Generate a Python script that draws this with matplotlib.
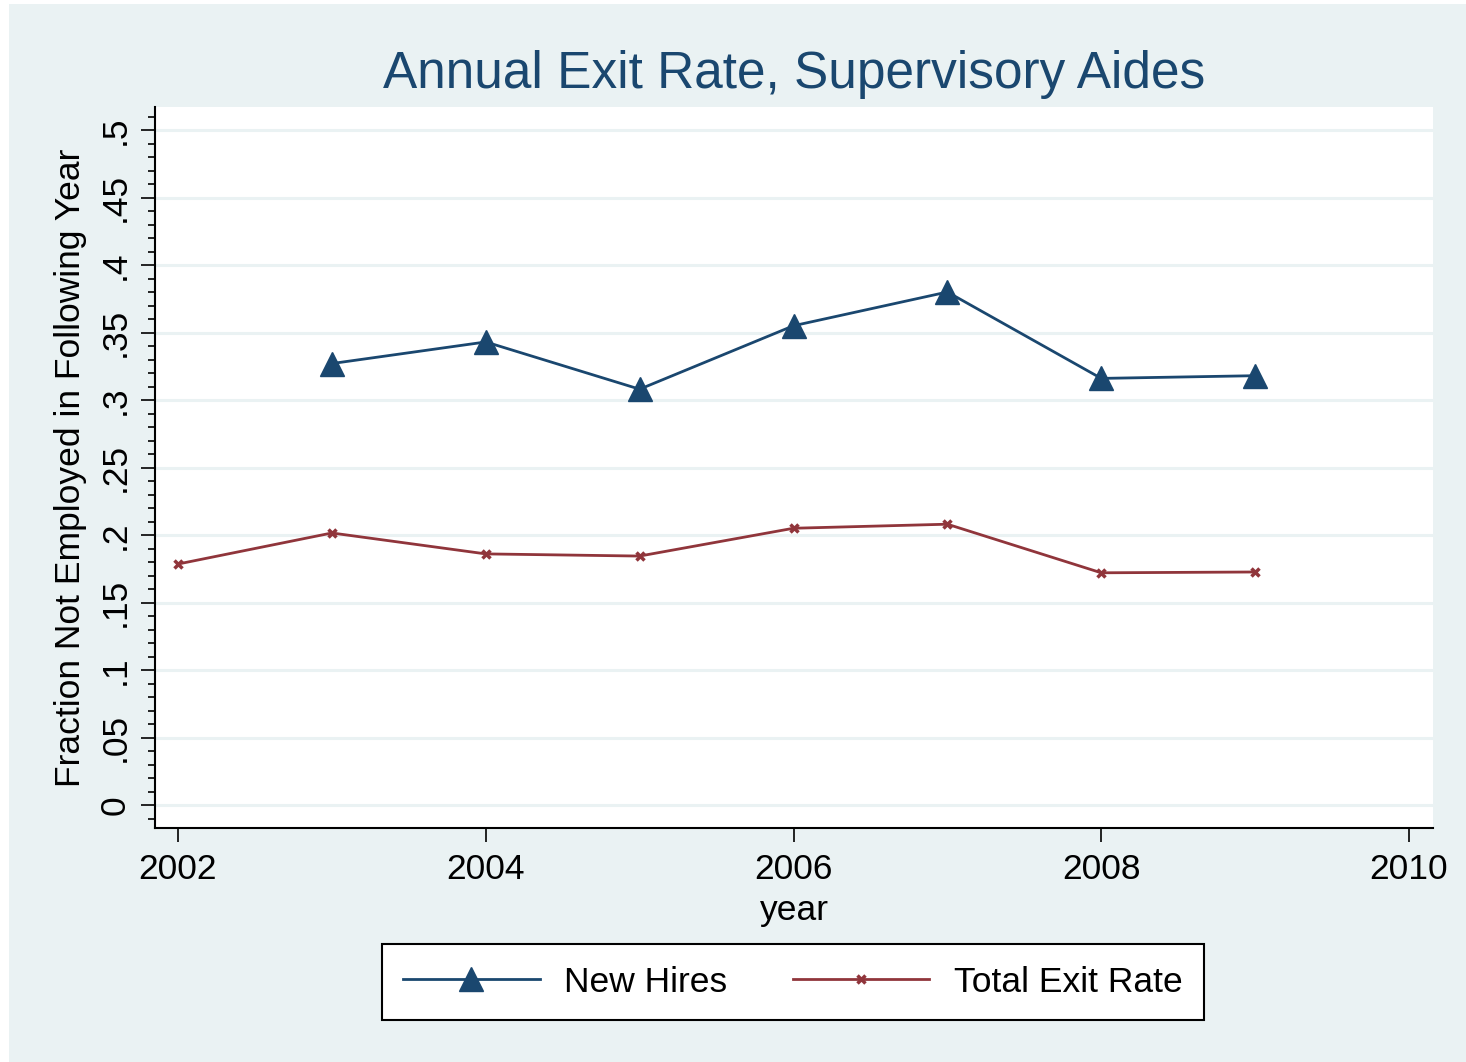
import matplotlib
matplotlib.use('Agg')
import matplotlib.pyplot as plt
from matplotlib.patches import Rectangle
from matplotlib.ticker import MultipleLocator

# data
years_new = [2003, 2004, 2005, 2006, 2007, 2008, 2009]
new_hires = [0.327, 0.343, 0.308, 0.355, 0.380, 0.316, 0.318]
years_total = [2002, 2003, 2004, 2005, 2006, 2007, 2008, 2009]
total_exit = [0.1785, 0.2015, 0.186, 0.1844, 0.205, 0.208, 0.172, 0.1726]
y_ticks = [0, 0.05, 0.1, 0.15, 0.2, 0.25, 0.3, 0.35, 0.4, 0.45, 0.5]
y_labels = ['0', '.05', '.1', '.15', '.2', '.25', '.3', '.35', '.4', '.45', '.5']
x_ticks = [2002, 2004, 2006, 2008, 2010]

navy = '#1A476F'
maroon = '#90353B'
bg = '#EAF2F3'
fs = 25.5

plt.rcParams['font.family'] = ['Liberation Sans', 'DejaVu Sans']

fig = plt.figure(figsize=(14.66, 10.62), dpi=100, facecolor='white')
fig.patches.append(Rectangle((9 / 1466, 0), 1 - 9 / 1466, 1 - 4 / 1062,
                             transform=fig.transFigure, facecolor=bg,
                             edgecolor='none', zorder=-10))

ax = fig.add_axes([155 / 1466, 1 - 828 / 1062, (1433 - 155) / 1466, (828 - 107) / 1062])
ax.set_facecolor('white')

for t in y_ticks:
    ax.axhline(t, color=bg, lw=2.2, zorder=1)

ax.plot(years_new, new_hires, color=navy, lw=2, marker='^', markersize=17,
        label='New Hires', zorder=3)
ax.plot(years_total, total_exit, color=maroon, lw=2, marker='x', markersize=6,
        markeredgewidth=2.5, label='Total Exit Rate', zorder=3)

ax.set_xlim(2002 - 23 / 153.875, 2010 + 24 / 153.875)
ax.set_ylim(-23 / 1350, 0.5 + 23 / 1350)

ax.set_xticks(x_ticks)
ax.set_xticklabels([str(x) for x in x_ticks], fontsize=fs)
ax.set_yticks(y_ticks)
ax.set_yticklabels(y_labels, fontsize=fs, rotation=90, va='center')
ax.yaxis.set_minor_locator(MultipleLocator(0.01))
ax.tick_params(axis='both', which='major', length=10, width=1.2, color='black')
ax.tick_params(axis='x', which='major', pad=8)
ax.tick_params(axis='y', which='major', pad=7)
ax.tick_params(axis='y', which='minor', length=5, width=1.2)

for s in ['top', 'right']:
    ax.spines[s].set_visible(False)
for s in ['left', 'bottom']:
    ax.spines[s].set_linewidth(1.5)

ax.set_xlabel('year', fontsize=fs, labelpad=6)
ax.set_ylabel('Fraction Not Employed in Following Year', fontsize=fs, labelpad=8)
ax.set_title('Annual Exit Rate, Supervisory Aides', color=navy, fontsize=37, pad=14)

leg = fig.legend(loc='center', bbox_to_anchor=(793 / 1466, 1 - 982 / 1062), ncol=2,
                 fontsize=fs, frameon=True, fancybox=False, edgecolor='black',
                 framealpha=1, handlelength=3.85, columnspacing=1.85, handletextpad=0.7,
                 borderpad=0.6)
leg.get_frame().set_linewidth(1.5)

fig.savefig('out.png', dpi=100, facecolor='white')
